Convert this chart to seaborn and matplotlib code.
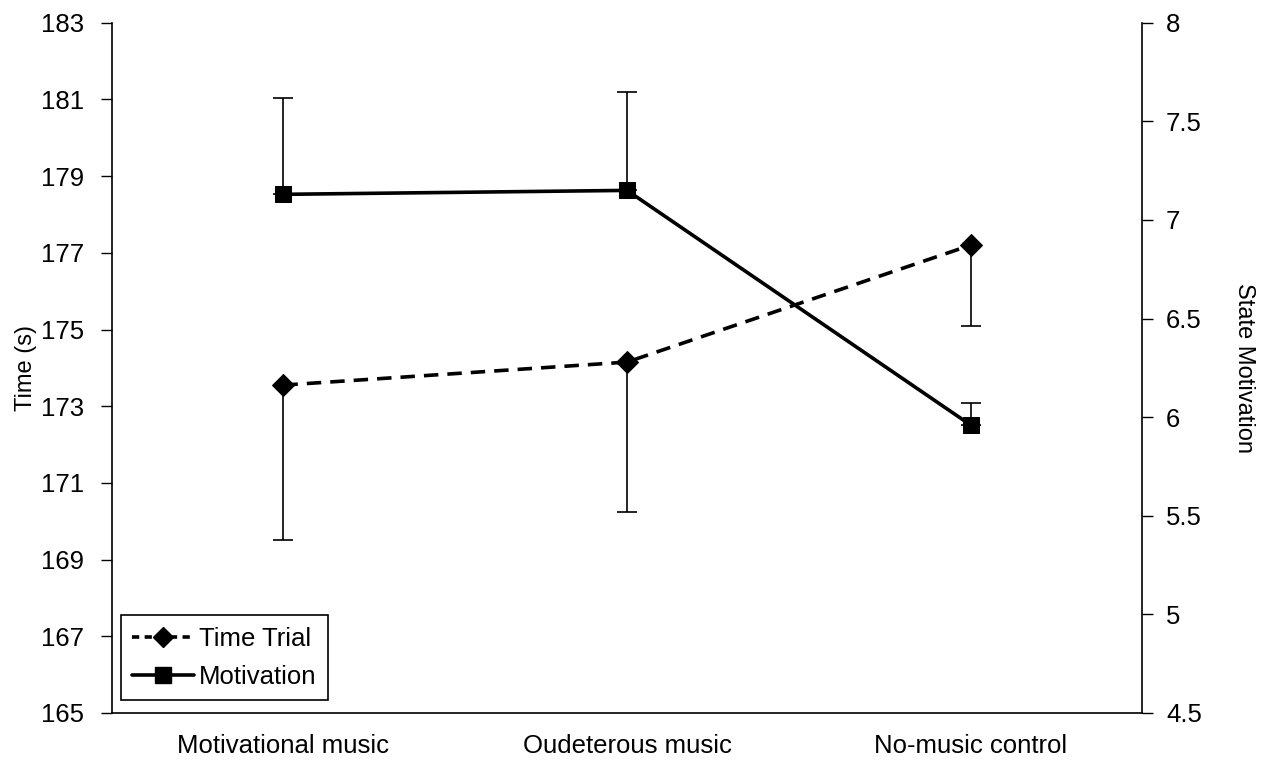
import matplotlib
matplotlib.use("Agg")
import matplotlib.pyplot as plt
import numpy as np
import pandas as pd
import seaborn as sns
from matplotlib.lines import Line2D
from matplotlib.ticker import FixedLocator

# Données
conditions = ['Motivational music', 'Oudeterous music', 'No-music control']
time_trial = [173.55, 174.15, 177.2]
time_err_low = [4.05, 3.9, 2.1]
motivation = [7.13, 7.15, 5.96]
motivation_err_up = [0.49, 0.50, 0.11]

sns.set_theme(style='white')
plt.rcParams['font.family'] = ['Liberation Sans', 'DejaVu Sans']
plt.rcParams['text.color'] = 'black'
plt.rcParams['axes.labelcolor'] = 'black'
plt.rcParams['xtick.color'] = 'black'
plt.rcParams['ytick.color'] = 'black'

fig = plt.figure(figsize=(12.68, 7.6), dpi=100)
ax = fig.add_axes([0.088, 0.062, 0.813, 0.908])
ax2 = ax.twinx()

x = np.arange(len(conditions))
df = pd.DataFrame({'x': x, 'time': time_trial, 'motivation': motivation})

# Time trial (axe de gauche)
sns.lineplot(data=df, x='x', y='time', ax=ax, color='black', linewidth=2.6,
             linestyle='--', marker='D', markersize=11, markeredgecolor='black',
             legend=False)
ax.lines[-1].set_dashes([4, 2.5])
ax.errorbar(x, time_trial, yerr=[time_err_low, np.zeros(3)], fmt='none',
            ecolor='black', elinewidth=1.2, capsize=7, capthick=1.2)

# Motivation (axe de droite)
sns.lineplot(data=df, x='x', y='motivation', ax=ax2, color='black', linewidth=2.6,
             marker='s', markersize=12, markeredgecolor='black', legend=False)
ax2.errorbar(x, motivation, yerr=[np.zeros(3), motivation_err_up], fmt='none',
             ecolor='black', elinewidth=1.2, capsize=7, capthick=1.2)

ax.set_xlim(-0.5, 2.5)
ax.set_ylim(165, 183)
ax.set_yticks(np.arange(165, 184, 2))
ax2.set_ylim(4.5, 8)
ax2.set_yticks(np.arange(4.5, 8.01, 0.5))
ax2.set_yticklabels(['4.5', '5', '5.5', '6', '6.5', '7', '7.5', '8'])

ax.set_xticks(x)
ax.set_xticklabels(conditions, fontsize=18.5)
ax.xaxis.set_minor_locator(FixedLocator([-0.5, 0.5, 1.5, 2.5]))
ax.tick_params(axis='x', which='major', length=0, pad=15)
ax.tick_params(axis='x', which='minor', length=8, width=1, color='black', direction='out')
ax.tick_params(axis='y', length=8, width=1, color='black', direction='out',
               labelsize=18.5, pad=12, left=True)
ax2.tick_params(axis='y', length=8, width=1, color='black', direction='out',
                labelsize=18.5, pad=9, right=True)

ax.set_xlabel('')
ax.set_ylabel('Time (s)', fontsize=17, labelpad=3)
ax2.set_ylabel('State Motivation', fontsize=17, rotation=270, labelpad=38)

for a in (ax, ax2):
    a.spines['top'].set_visible(False)
    for side in ['left', 'right', 'bottom']:
        a.spines[side].set_color('black')
        a.spines[side].set_linewidth(1.2)
ax.spines['right'].set_visible(False)
ax2.spines['left'].set_visible(False)
ax2.spines['bottom'].set_visible(False)

handles = [
    Line2D([], [], color='black', linewidth=2.6, linestyle=(0, (2, 1.5)),
           marker='D', markersize=10),
    Line2D([], [], color='black', linewidth=2.6, marker='s', markersize=11),
]
leg = ax.legend(handles, ['Time Trial', 'Motivation'], loc='lower left',
                bbox_to_anchor=(0.009, 0.018), fontsize=18.5, frameon=True,
                fancybox=False, edgecolor='black', framealpha=1,
                handlelength=2.4, handletextpad=0.2, borderpad=0.45,
                labelspacing=0.55, borderaxespad=0)
leg.get_frame().set_linewidth(1.2)

fig.savefig('out.png', dpi=100, facecolor='white')
